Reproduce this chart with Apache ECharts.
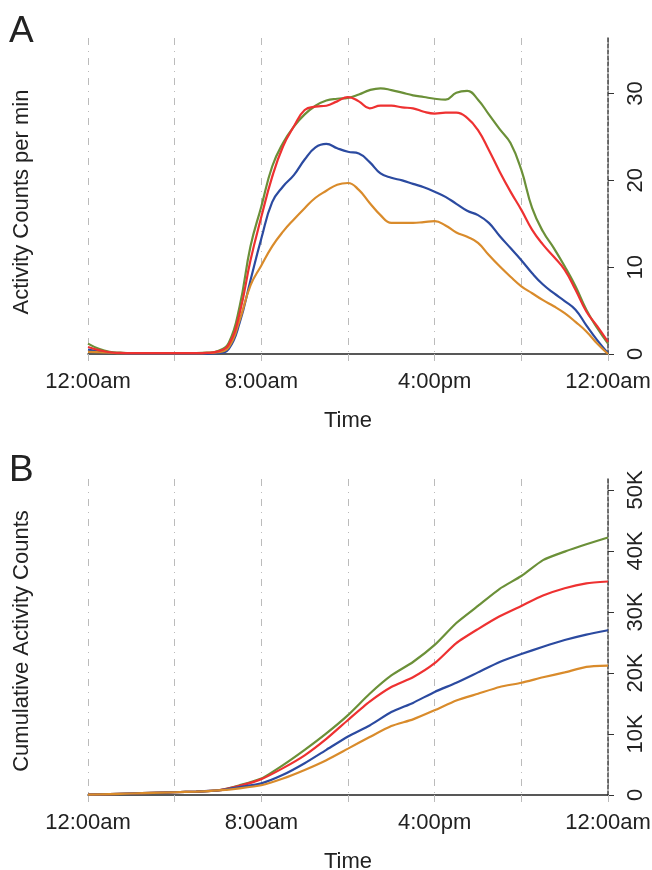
<!DOCTYPE html>
<html>
<head>
<meta charset="utf-8">
<script src="https://cdn.jsdelivr.net/npm/echarts@6/dist/echarts.min.js"></script>
<style>
  html, body { margin: 0; padding: 0; background: #fff; }
  #chart { width: 652px; height: 870px; }
</style>
</head>
<body>
<div id="chart"></div>
<script>
// hours of the day, panel A sampled every half hour, panel B every hour
var hoursA = [];
for (var i = 0; i <= 48; i++) hoursA.push(i / 2);
var hoursB = [];
for (var j = 0; j <= 24; j++) hoursB.push(j);

var xTickHours = [0, 8, 16, 24];
var xTickText = ['12:00am', '8:00am', '4:00pm', '12:00am'];

// panel A: activity counts per minute
var greenA = [1.2, 0.6, 0.25, 0.15, 0.1, 0.1, 0.1, 0.1, 0.1, 0.1, 0.1, 0.15, 0.35,
  1.3, 5.5, 12.4, 17.0, 21.6, 24.3, 26.2, 27.6, 28.6, 29.2, 29.4, 29.5, 29.9, 30.4, 30.6,
  30.4, 30.1, 29.8, 29.6, 29.4, 29.3, 30.1, 30.3, 29.3, 27.6, 25.9, 24.3, 21.2, 16.8, 14.1,
  12.2, 10.1, 7.8, 5.1, 3.0, 1.2];
var redA = [0.8, 0.45, 0.2, 0.12, 0.1, 0.1, 0.1, 0.1, 0.1, 0.1, 0.1, 0.12, 0.3,
  1.1, 4.7, 10.8, 15.8, 20.4, 23.9, 26.2, 28.1, 28.5, 28.6, 29.1, 29.6, 29.1, 28.3, 28.6,
  28.6, 28.4, 28.3, 27.9, 27.7, 27.8, 27.8, 27.2, 25.8, 23.5, 21.0, 18.7, 16.6, 14.3, 12.6,
  11.2, 9.7, 7.4, 4.9, 3.2, 1.4];
var blueA = [0.5, 0.3, 0.15, 0.1, 0.05, 0.05, 0.05, 0.05, 0.05, 0.05, 0.05, 0.05, 0.1,
  0.6, 3.6, 8.5, 13.3, 17.5, 19.3, 20.6, 22.4, 23.8, 24.2, 23.7, 23.3, 23.1, 22.1, 20.8,
  20.3, 20.0, 19.6, 19.2, 18.7, 18.1, 17.3, 16.5, 16.0, 15.1, 13.6, 12.2, 10.8, 9.3, 8.0,
  7.0, 6.1, 5.1, 3.3, 1.6, 0.1];
var orangeA = [0.25, 0.2, 0.15, 0.1, 0.1, 0.1, 0.1, 0.1, 0.1, 0.1, 0.1, 0.12, 0.2,
  0.8, 3.9, 7.9, 10.2, 12.4, 14.1, 15.5, 16.8, 18.0, 18.8, 19.5, 19.7, 18.9, 17.4, 16.0,
  15.1, 15.1, 15.1, 15.2, 15.3, 14.8, 14.0, 13.5, 12.8, 11.4, 10.1, 8.9, 7.8, 7.0, 6.2,
  5.5, 4.7, 3.7, 2.6, 1.2, 0];

// panel B: cumulative activity counts (thousands)
var greenB = [0.05, 0.15, 0.25, 0.35, 0.45, 0.55, 0.75, 1.6, 2.7, 4.9, 7.4, 10.1, 13.1,
  16.6, 19.6, 21.8, 24.6, 28.2, 31.0, 33.8, 35.9, 38.5, 39.9, 41.1, 42.2];
var redB = [0.05, 0.15, 0.25, 0.35, 0.45, 0.55, 0.75, 1.5, 2.6, 4.4, 6.5, 9.2, 12.3,
  15.3, 17.7, 19.3, 21.6, 24.9, 27.2, 29.3, 31.0, 32.7, 33.9, 34.7, 35.0];
var blueB = [0.05, 0.15, 0.25, 0.35, 0.45, 0.55, 0.75, 1.3, 1.9, 3.3, 5.2, 7.4, 9.6,
  11.4, 13.6, 15.1, 16.9, 18.4, 20.1, 21.8, 23.1, 24.3, 25.4, 26.3, 27.0];
var orangeB = [0.05, 0.15, 0.25, 0.35, 0.45, 0.55, 0.75, 1.1, 1.6, 2.7, 4.1, 5.7, 7.6,
  9.5, 11.3, 12.4, 13.9, 15.5, 16.6, 17.7, 18.4, 19.3, 20.1, 21.0, 21.2];

var colors = { green: '#6b9038', red: '#ee3131', blue: '#2b4aa0', orange: '#d98b2b' };
var font = "'Liberation Sans', Arial, sans-serif";
var txt = '#222';
var dashDot = [7, 6, 1, 6];

function pairs(xs, ys) {
  return xs.map(function (x, k) { return [x, ys[k]]; });
}

function xAxisFor(gi) {
  return {
    type: 'value', gridIndex: gi, min: 0, max: 24, interval: 4,
    name: 'Time', nameLocation: 'middle', nameGap: 56,
    nameTextStyle: { fontFamily: font, fontSize: 22, color: txt },
    axisLine: { show: true, onZero: false, lineStyle: { color: '#222', width: 1.5 } },
    axisTick: { show: true, length: 12, lineStyle: { color: '#bbb', type: dashDot } },
    splitLine: { show: true, lineStyle: { color: '#bbb', type: dashDot, width: 1 } },
    axisLabel: {
      margin: 17, fontFamily: font, fontSize: 22, color: txt,
      formatter: function (v) {
        var k = xTickHours.indexOf(v);
        return k >= 0 ? xTickText[k] : '';
      }
    }
  };
}

function yAxisFor(gi, max, fmt) {
  return {
    type: 'value', gridIndex: gi, position: 'right', min: 0, max: max, interval: 10,
    axisLine: { show: true, onZero: false, lineStyle: { color: '#444', type: [4, 2], width: 1.5 } },
    axisTick: { show: true, length: 6, lineStyle: { color: '#333' } },
    splitLine: { show: false },
    axisLabel: {
      rotate: 90, margin: 17, fontFamily: font, fontSize: 22, color: txt,
      showMaxLabel: false,
      formatter: fmt
    }
  };
}

function line(name, gi, xs, ys, color, smooth) {
  return {
    name: name, type: 'line', xAxisIndex: gi, yAxisIndex: gi,
    data: pairs(xs, ys), showSymbol: false, smooth: smooth,
    lineStyle: { color: color, width: 2.2 }, z: 3
  };
}

var chart = echarts.init(document.getElementById('chart'));
chart.setOption({
  animation: false,
  grid: [
    { left: 88, right: 44, top: 38, height: 316, outerBoundsMode: 'none' },
    { left: 88, right: 44, top: 479, height: 316, outerBoundsMode: 'none' }
  ],
  xAxis: [xAxisFor(0), xAxisFor(1)],
  yAxis: [
    yAxisFor(0, 36.4, function (v) { return v % 10 === 0 ? String(v) : ''; }),
    yAxisFor(1, 51.8, function (v) { return v % 10 !== 0 ? '' : (v === 0 ? '0' : v + 'K'); })
  ],
  series: [
    line('green', 0, hoursA, greenA, colors.green, 0.45),
    line('blue', 0, hoursA, blueA, colors.blue, 0.45),
    line('orange', 0, hoursA, orangeA, colors.orange, 0.45),
    line('red', 0, hoursA, redA, colors.red, 0.45),
    line('green', 1, hoursB, greenB, colors.green, 0.2),
    line('red', 1, hoursB, redB, colors.red, 0.2),
    line('blue', 1, hoursB, blueB, colors.blue, 0.2),
    line('orange', 1, hoursB, orangeB, colors.orange, 0.2)
  ],
  graphic: [
    { type: 'text', left: 9, top: 13, style: { text: 'A', fontFamily: font, fontSize: 37, fill: txt } },
    { type: 'text', left: 9, top: 452, style: { text: 'B', fontFamily: font, fontSize: 37, fill: txt } },
    { type: 'text', x: 22, y: 202, rotation: Math.PI / 2,
      style: { text: 'Activity Counts per min', fontFamily: font, fontSize: 22, fill: txt,
        align: 'center', verticalAlign: 'middle' } },
    { type: 'text', x: 22, y: 641, rotation: Math.PI / 2,
      style: { text: 'Cumulative Activity Counts', fontFamily: font, fontSize: 22, fill: txt,
        align: 'center', verticalAlign: 'middle' } }
  ]
});
</script>
</body>
</html>
